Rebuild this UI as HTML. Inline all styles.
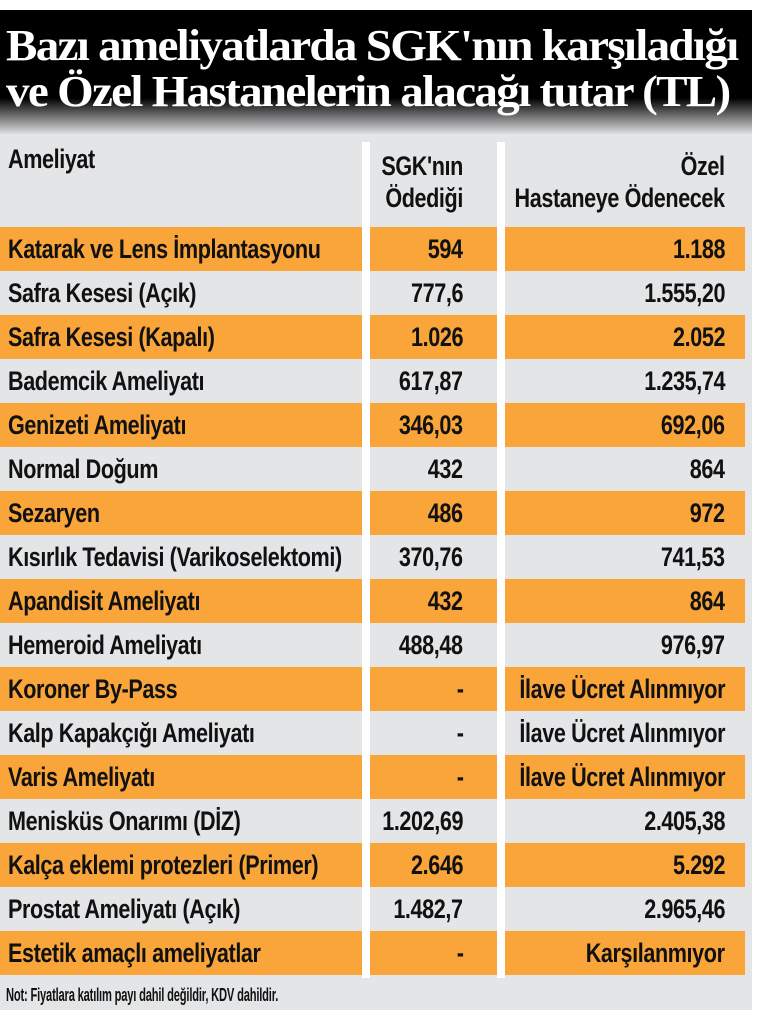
<!DOCTYPE html>
<html><head><meta charset="utf-8"><style>
body{margin:0;width:770px;height:1010px;background:#fff;overflow:hidden;position:relative;font-family:"Liberation Sans",sans-serif;}
#hdr{position:absolute;left:0;top:10px;width:752px;height:125px;background:linear-gradient(#000 0,#000 88px,#e4e5e7 125px);}
#hdr div{position:absolute;left:6px;color:#fff;font-family:"Liberation Serif",serif;font-weight:bold;font-size:44px;letter-spacing:-1.6px;white-space:nowrap;transform:scaleX(1.07);transform-origin:left;}
#panel{position:absolute;left:0;top:135px;width:752px;height:875px;background:#e4e5e7;}
.c{position:absolute;font-weight:bold;font-size:27px;letter-spacing:-0.5px;color:#111;white-space:nowrap;line-height:44px;transform:scaleX(0.8);}
.sep{position:absolute;top:142px;width:8px;height:836px;background:#fff;}
.row{position:absolute;left:0;width:745px;height:44px;}
.o{background:#f9a53a;}
.l{left:8px;transform-origin:left}
.m{right:307px;text-align:right;transform-origin:right}
.r{right:45px;text-align:right;transform-origin:right}
</style></head><body>
<div id="hdr"><div style="top:10px">Bazı ameliyatlarda SGK'nın karşıladığı</div><div style="top:56px">ve Özel Hastanelerin alacağı tutar (TL)</div></div>
<div id="panel"></div>
<div class="c l" style="top:143px;line-height:32px">Ameliyat</div>
<div class="c m" style="top:150px;line-height:32px">SGK'nın<br>Ödediği</div>
<div class="c r" style="top:150px;line-height:32px">Özel<br>Hastaneye Ödenecek</div>
<div id="rows"></div>
<div class="sep" style="left:362px"></div>
<div class="sep" style="left:497px"></div>
<div class="c l" style="left:6px;top:975px;font-size:18px;letter-spacing:-0.3px;line-height:40px;transform:scaleX(0.62)">Not: Fiyatlara katılım payı dahil değildir, KDV dahildir.</div>
<script>
var d=[["Katarak ve Lens İmplantasyonu","594","1.188"],["Safra Kesesi (Açık)","777,6","1.555,20"],["Safra Kesesi (Kapalı)","1.026","2.052"],["Bademcik Ameliyatı","617,87","1.235,74"],["Genizeti Ameliyatı","346,03","692,06"],["Normal Doğum","432","864"],["Sezaryen","486","972"],["Kısırlık Tedavisi (Varikoselektomi)","370,76","741,53"],["Apandisit Ameliyatı","432","864"],["Hemeroid Ameliyatı","488,48","976,97"],["Koroner By-Pass","-","İlave Ücret Alınmıyor"],["Kalp Kapakçığı Ameliyatı","-","İlave Ücret Alınmıyor"],["Varis Ameliyatı","-","İlave Ücret Alınmıyor"],["Menisküs Onarımı (DİZ)","1.202,69","2.405,38"],["Kalça eklemi protezleri (Primer)","2.646","5.292"],["Prostat Ameliyatı (Açık)","1.482,7","2.965,46"],["Estetik amaçlı ameliyatlar","-","Karşılanmıyor"]];
var h="";d.forEach(function(r,i){var t=227+i*44;h+='<div class="row'+(i%2==0?' o':'')+'" style="top:'+t+'px"></div><div class="c l" style="top:'+t+'px">'+r[0]+'</div><div class="c m" style="top:'+t+'px">'+r[1]+'</div><div class="c r" style="top:'+t+'px">'+r[2]+'</div>';});
document.getElementById("rows").innerHTML=h;
</script>
</body></html>
